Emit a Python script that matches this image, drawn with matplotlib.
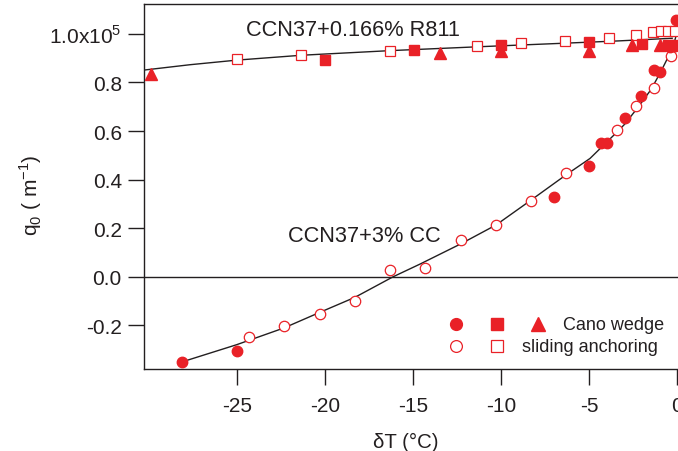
import numpy as np
import matplotlib
matplotlib.use("Agg")
import matplotlib.pyplot as plt

# -----------------------------
# DATA  (q0 in units of 1e5 m^-1, dT in degC)
# -----------------------------
# CCN37+3% CC, Cano wedge (filled circles)
cc_wedge_dT = [-28.13, -25.02, -6.99, -4.98, -4.30, -3.96, -2.97, -2.03,
               -1.31, -0.98, -0.41, -0.13, -0.04]
cc_wedge_q = [-0.351, -0.305, 0.329, 0.456, 0.549, 0.549, 0.655, 0.746,
              0.851, 0.844, 0.944, 0.951, 1.056]

# CCN37+3% CC, sliding anchoring (open circles)
cc_slide_dT = [-24.32, -22.33, -20.30, -18.30, -16.29, -14.30, -12.29, -10.28,
               -8.28, -6.31, -3.38, -2.31, -1.31, -0.32]
cc_slide_q = [-0.248, -0.203, -0.153, -0.100, 0.026, 0.034, 0.152, 0.212,
              0.313, 0.426, 0.606, 0.702, 0.779, 0.909]

# CCN37+0.166% R811, Cano wedge (filled squares / triangles)
r811_sq_dT = [-19.97, -14.95, -9.98, -4.98, -1.99, -0.51, -0.11]
r811_sq_q = [0.891, 0.935, 0.955, 0.965, 0.958, 0.955, 0.954]
r811_tri_dT = [-29.89, -13.45, -9.98, -4.98, -2.54, -0.98]
r811_tri_q = [0.834, 0.921, 0.930, 0.930, 0.955, 0.955]

# CCN37+0.166% R811, sliding anchoring (open squares)
r811_slide_dT = [-25.01, -21.34, -16.31, -11.36, -8.86, -6.38, -3.85,
                 -2.31, -1.36, -0.89, -0.51, -0.10]
r811_slide_q = [0.895, 0.914, 0.931, 0.951, 0.963, 0.970, 0.985,
                0.996, 1.006, 1.012, 1.012, 1.012]

# fit curves
fit_cc_dT = [-28.13, -25.02, -22.33, -20.30, -18.30, -16.12, -14.60, -12.29,
             -10.28, -8.28, -6.31, -4.94, -3.43, -2.97, -2.22, -1.46,
             -0.89, -0.51, -0.23, 0.03]
fit_cc_q = [-0.351, -0.280, -0.211, -0.147, -0.085, 0.000, 0.052, 0.135,
            0.213, 0.316, 0.419, 0.487, 0.594, 0.628, 0.697, 0.772,
            0.848, 0.903, 0.944, 1.013]
fit_r811_dT = [-30.28, -27.67, -25.00, -21.34, -16.31, -11.27, -6.27, -3.35, -0.27]
fit_r811_q = [0.851, 0.873, 0.892, 0.912, 0.931, 0.947, 0.962, 0.971, 0.982]

xticks = [-25, -20, -15, -10, -5, 0]
xtick_labels = ["-25", "-20", "-15", "-10", "-5", "0"]
yticks = [-0.2, 0.0, 0.2, 0.4, 0.6, 0.8, 1.0]
ytick_labels = ["-0.2", "0.0", "0.2", "0.4", "0.6", "0.8",
                "1.0x10$^\\mathregular{5}$"]

# -----------------------------
# STYLE
# -----------------------------
plt.rcParams['font.family'] = ['Liberation Sans', 'DejaVu Sans']
plt.rcParams['mathtext.fontset'] = 'custom'
plt.rcParams['mathtext.rm'] = 'Liberation Sans'
plt.rcParams['axes.unicode_minus'] = False

red = '#e92127'
ink = '#231f20'

fig = plt.figure(figsize=(6.78, 4.52), dpi=100)
ax = fig.add_axes([0.2124, 0.1814, 0.8016, 0.8075])

ax.axhline(0, color=ink, lw=1.0, zorder=1)
ax.plot(fit_cc_dT, fit_cc_q, color=ink, lw=1.0, zorder=2)
ax.plot(fit_r811_dT, fit_r811_q, color=ink, lw=1.0, zorder=2)

ms = 7.5
ax.plot(cc_slide_dT, cc_slide_q, 'o', ms=ms, mfc='white', mec=red, mew=0.9, zorder=3)
ax.plot(r811_slide_dT, r811_slide_q, 's', ms=ms, mfc='white', mec=red, mew=0.9, zorder=3)
ax.plot(cc_wedge_dT, cc_wedge_q, 'o', ms=ms, color=red, mec=red, zorder=4)
ax.plot(r811_sq_dT, r811_sq_q, 's', ms=ms, color=red, mec=red, zorder=4)
ax.plot(r811_tri_dT, r811_tri_q, '^', ms=8.5, color=red, mec=red, zorder=4)

ax.text(-24.49, 0.997, "CCN37+0.166% R811", fontsize=15.7, color=ink,
        ha='left', va='baseline')
ax.text(-22.09, 0.148, "CCN37+3% CC", fontsize=15.7, color=ink,
        ha='left', va='baseline')

# legend drawn by hand (two rows, three marker columns)
tr = ax.transAxes
ax.plot([0.5735], [0.123], 'o', ms=8.5, color=red, transform=tr, clip_on=False)
ax.plot([0.649], [0.123], 's', ms=8.5, color=red, transform=tr, clip_on=False)
ax.plot([0.7244], [0.123], '^', ms=9.5, color=red, transform=tr, clip_on=False)
ax.plot([0.5735], [0.063], 'o', ms=8.5, mfc='white', mec=red, mew=0.9,
        transform=tr, clip_on=False)
ax.plot([0.649], [0.063], 's', ms=8.5, mfc='white', mec=red, mew=0.9,
        transform=tr, clip_on=False)
ax.text(0.7715, 0.123, "Cano wedge", fontsize=13, color=ink, transform=tr,
        ha='left', va='center')
ax.text(0.695, 0.063, "sliding anchoring", fontsize=13, color=ink, transform=tr,
        ha='left', va='center')

# -----------------------------
# AXES
# -----------------------------
ax.set_xlim(-30.28, 0.60)
ax.set_ylim(-0.38, 1.123)
ax.set_xticks(xticks)
ax.set_xticklabels(xtick_labels)
ax.set_yticks(yticks)
ax.set_yticklabels(ytick_labels)
ax.tick_params(axis='both', direction='out', length=11.5, width=1.0,
               colors=ink, labelsize=15)
ax.tick_params(axis='x', pad=8)
ax.tick_params(axis='y', pad=4.5)
for side in ['left', 'bottom', 'top', 'right']:
    ax.spines[side].set_color(ink)
    ax.spines[side].set_linewidth(1.0)

ax.set_xlabel("\u03b4T (\u00b0C)", fontsize=14.7, color=ink)
ax.xaxis.set_label_coords(0.482, -0.1726)
ax.set_ylabel("q$_\\mathregular{0}$ ( m$^\\mathregular{-1}$)", fontsize=15, color=ink)
ax.yaxis.set_label_coords(-0.184, 0.479)

fig.savefig("out.png", dpi=100)
